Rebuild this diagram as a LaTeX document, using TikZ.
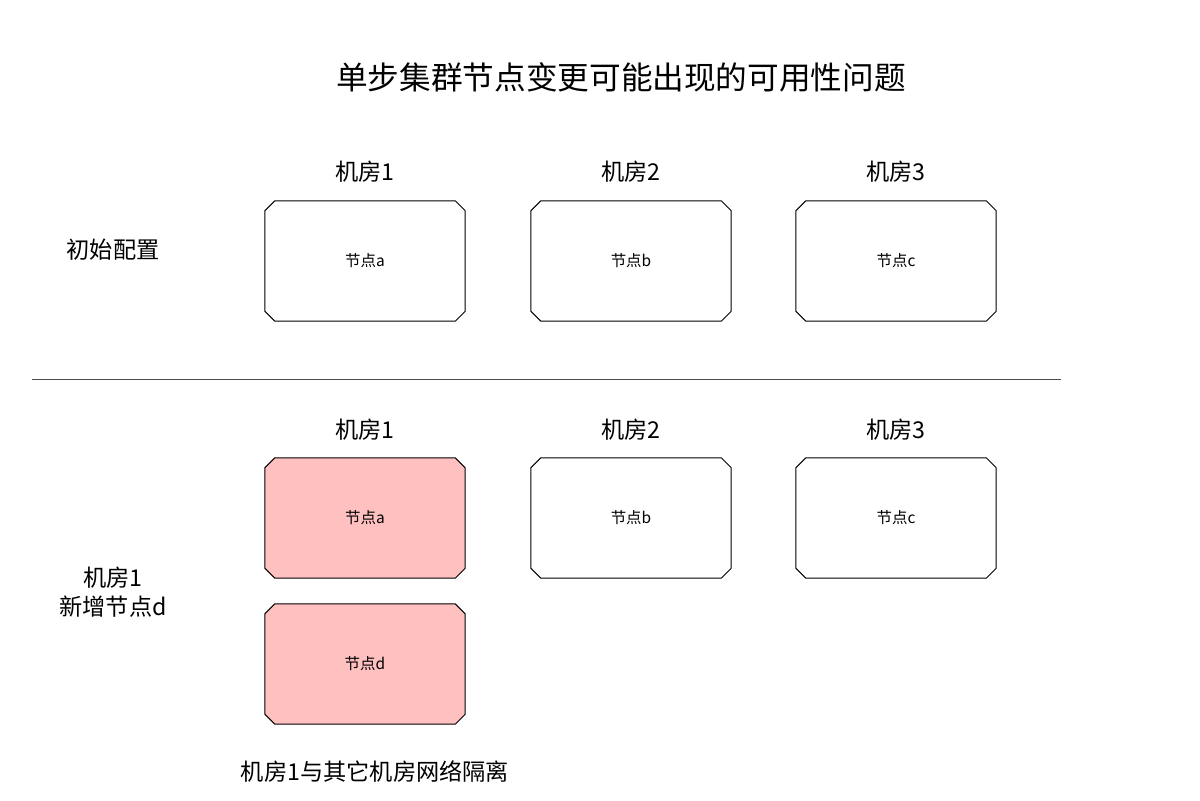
\documentclass[tikz,border=0pt]{standalone}
\usepackage{fontspec}
\setmainfont{Noto Sans CJK SC}
\usetikzlibrary{shapes.misc}

\definecolor{pinkfill}{HTML}{FFC0C0}

\begin{document}
\begin{tikzpicture}[x=0.025cm, y=-0.025cm,
    room/.style={font=\fontsize{16.5}{21}\selectfont},
    nodebox/.style={chamfered rectangle, chamfered rectangle xsep=0.12cm, chamfered rectangle ysep=0.12cm,
      draw=black, line width=0.7pt, minimum width=5cm, minimum height=3cm, inner sep=0pt,
      font=\fontsize{11}{13}\selectfont},
    isolated/.style={nodebox, fill=pinkfill}]
    % Units: 1 = one pixel of the 1200x800 frame, y grows downwards
    \useasboundingbox (0,0) rectangle (1200,800);

    % Title
    \node[font=\fontsize{22.5}{26}\selectfont] (title) at (621,77) {单步集群节点变更可能出现的可用性问题};

    % Initial configuration: one node per room
    \node[room] (init) at (113,250) {初始配置};
    \foreach \i/\x/\n in {1/365/a, 2/631/b, 3/896/c}{
        \node[room] (top-room\i) at (\x,172) {机房\i};
        \node[nodebox] (top-\n) at (\x,261) {节点\n};
    }

    % Separator
    \coordinate (sep-l) at (32,379);
    \coordinate (sep-r) at (1061,379);
    \draw[black!70, line width=0.6pt] (sep-l) -- (sep-r);

    % Room 1 gets a new node d
    \node[room, align=center] (case) at (113,592) {机房1\\新增节点d};
    \foreach \i/\x in {1/365, 2/631, 3/896}{
        \node[room] (bot-room\i) at (\x,430) {机房\i};
    }
    \node[isolated] (bot-a) at (365,518) {节点a};
    \node[nodebox] (bot-b) at (631,518) {节点b};
    \node[nodebox] (bot-c) at (896,518) {节点c};
    \node[isolated] (bot-d) at (365,664) {节点d};

    \node[room] (note) at (375,772) {机房1与其它机房网络隔离};
\end{tikzpicture}
\end{document}
